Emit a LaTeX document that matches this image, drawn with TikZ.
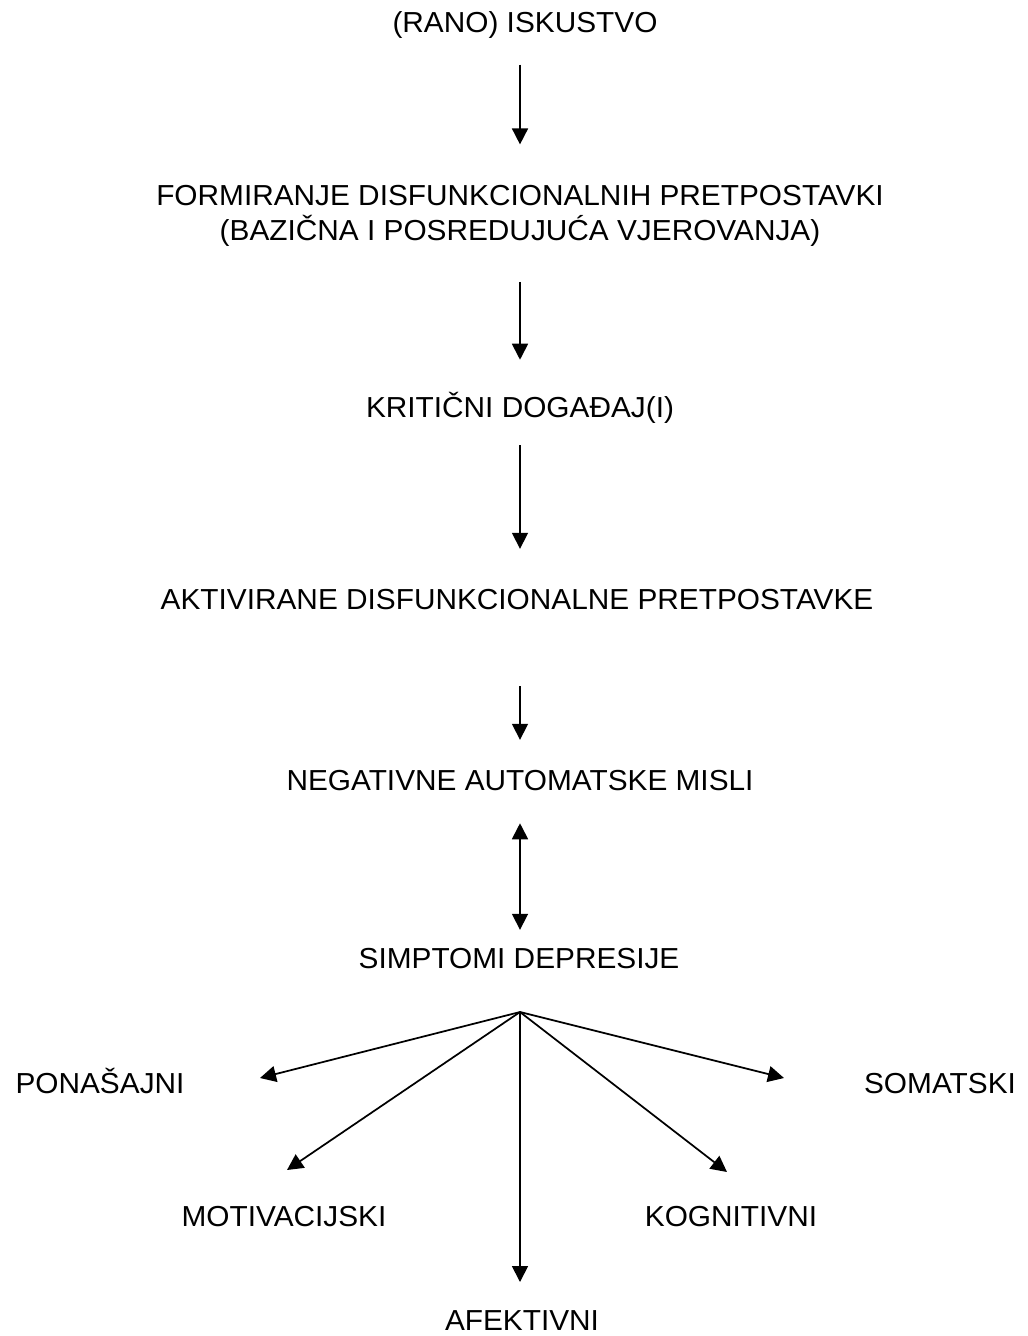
\documentclass[tikz,border=0pt]{standalone}
\usepackage{fontspec}
\setmainfont[FakeStretch=1.03]{Liberation Sans}
\usetikzlibrary{arrows.meta}
\begin{document}
\begin{tikzpicture}[x=0.75pt,y=-0.75pt,
  lbl/.style={inner sep=0pt,text height=15.5pt,text depth=0pt,font=\fontsize{21.7pt}{26pt}\selectfont},
  arr/.style={line width=1.3pt,-{Triangle[width=12pt,length=12pt]}},
  darr/.style={line width=1.3pt,{Triangle[width=12pt,length=12pt]}-{Triangle[width=12pt,length=12pt]}}]
\useasboundingbox[fill=white] (0,0) rectangle (1028,1336);
\node[lbl] (r)  at (525,22)  {(RANO) ISKUSTVO};
\node[lbl] (f1) at (520,195) {FORMIRANJE DISFUNKCIONALNIH PRETPOSTAVKI};
\node[lbl] (f2) at (520,230) {(BAZIČNA I POSREDUJUĆA VJEROVANJA)};
\node[lbl] (k)  at (520,407) {KRITIČNI DOGAĐAJ(I)};
\node[lbl] (a)  at (517,599) {AKTIVIRANE DISFUNKCIONALNE PRETPOSTAVKE};
\node[lbl] (n)  at (520,780) {NEGATIVNE AUTOMATSKE MISLI};
\node[lbl] (s)  at (519,958) {SIMPTOMI DEPRESIJE};
\node[lbl] (p)  at (100,1083) {PONAŠAJNI};
\node[lbl] (so) at (940,1083) {SOMATSKI};
\node[lbl] (m)  at (284,1216) {MOTIVACIJSKI};
\node[lbl] (kg) at (731,1216) {KOGNITIVNI};
\node[lbl] (af) at (522,1320) {AFEKTIVNI};
% vertical chain
\draw[arr,shorten <=24pt,shorten >=30pt] (r.south -| f1.north) -- (f1.north);
\draw[arr,shorten <=31pt,shorten >=27.5pt] (f2.south) -- (k.north);
\draw[arr,shorten <=20.7pt,shorten >=29.7pt] (k.south) -- (k.south |- a.north);
\draw[arr,shorten <=57.5pt,shorten >=22.2pt] (a.south -| n.south) -- (n.north);
\draw[darr,shorten <=24.5pt,shorten >=13.2pt] (n.south) -- (n.south |- s.north);
% fan
\coordinate (hub) at (520,1012);
\coordinate (tp)  at (260,1078);
\coordinate (tm)  at (287,1170);
\coordinate (tk)  at (727,1172);
\coordinate (ts)  at (784,1078);
\coordinate (ta)  at (520,1282);
\draw[arr] (hub) -- (tp);
\draw[arr] (hub) -- (tm);
\draw[arr] (hub) -- (ta);
\draw[arr] (hub) -- (tk);
\draw[arr] (hub) -- (ts);
\end{tikzpicture}
\end{document}
